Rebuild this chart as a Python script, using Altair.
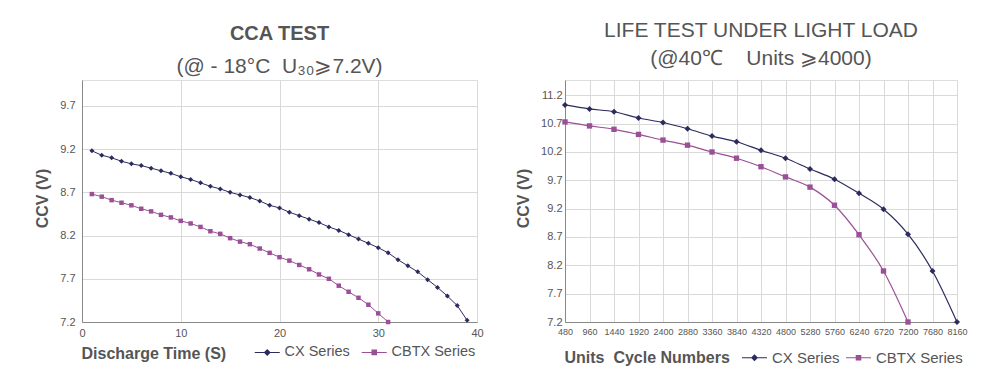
import altair as alt
import pandas as pd

# ---------------- data ----------------
series_names = ["CX Series", "CBTX Series"]
series_colors = ["#2b2b5e", "#9a4f96"]

cca_time_cx = list(range(1, 40))
cca_cx = [9.18, 9.13, 9.10, 9.06, 9.03, 9.01, 8.98, 8.95, 8.92, 8.88,
          8.85, 8.81, 8.77, 8.74, 8.70, 8.67, 8.64, 8.60, 8.55, 8.52,
          8.47, 8.43, 8.39, 8.35, 8.30, 8.26, 8.21, 8.16, 8.11, 8.06,
          8.00, 7.92, 7.85, 7.78, 7.69, 7.60, 7.50, 7.39, 7.22]
cca_time_cbtx = list(range(1, 32))
cca_cbtx = [8.68, 8.65, 8.61, 8.58, 8.55, 8.51, 8.48, 8.44, 8.41, 8.37,
            8.34, 8.30, 8.25, 8.22, 8.17, 8.13, 8.10, 8.05, 8.00, 7.95,
            7.91, 7.86, 7.81, 7.75, 7.70, 7.62, 7.55, 7.48, 7.40, 7.30, 7.20]
cca_y_ticks = [7.2, 7.7, 8.2, 8.7, 9.2, 9.7]
cca_x_ticks = [0, 10, 20, 30, 40]

life_cycles_cx = [480, 960, 1440, 1920, 2400, 2880, 3360, 3840, 4320, 4800,
                  5280, 5760, 6240, 6720, 7200, 7680, 8160]
life_cx = [11.03, 10.96, 10.91, 10.80, 10.72, 10.61, 10.48, 10.38, 10.23, 10.09,
           9.90, 9.72, 9.47, 9.19, 8.75, 8.10, 7.20]
life_cycles_cbtx = [480, 960, 1440, 1920, 2400, 2880, 3360, 3840, 4320, 4800,
                    5280, 5760, 6240, 6720, 7200]
life_cbtx = [10.73, 10.66, 10.60, 10.51, 10.41, 10.32, 10.20, 10.09, 9.94, 9.76,
             9.58, 9.26, 8.74, 8.10, 7.20]
life_y_ticks = [7.2, 7.7, 8.2, 8.7, 9.2, 9.7, 10.2, 10.7, 11.2]
life_x_ticks = life_cycles_cx

FONT = "Liberation Sans"
TXT = "#555555"

# legend symbols: a short line with a marker in the middle (custom SVG paths)
LEG_DIAMOND = "M-2.5,-0.1H2.5V0.1H-2.5Z M0,-0.7L0.7,0L0,0.7L-0.7,0Z"
LEG_SQUARE = "M-2.5,-0.1H2.5V0.1H-2.5Z M-0.56,-0.56H0.56V0.56H-0.56Z"


def panel(x_cx, y_cx, x_cbtx, y_cbtx, x_title, x_dom, x_ticks, x_fmt, y_dom, y_ticks,
          width, height, title, interp, x_lab_size, y_lab_size, y_lab_pad,
          ytitle_x, xtitle_y, leg_x, leg_y, leg_size, leg_colpad, msize, lwidth):
    df_cx = pd.DataFrame({"x": x_cx, "y": y_cx})
    df_cb = pd.DataFrame({"x": x_cbtx, "y": y_cbtx})
    x_enc = alt.X("x:Q", scale=alt.Scale(domain=x_dom, nice=False, zero=False),
                  axis=alt.Axis(values=x_ticks, format=x_fmt, title=x_title,
                                labelFontSize=x_lab_size,
                                labelColor=TXT, labelFont=FONT, labelFlush=False,
                                labelOverlap=False, ticks=False, labelPadding=5,
                                domainColor="#888888", gridColor="#d9d9d9",
                                titleFont=FONT, titleFontSize=16, titleFontWeight="bold",
                                titleColor=TXT, titleAnchor="start", titleAlign="left",
                                titleBaseline="middle", titleX=-1, titleY=xtitle_y))
    y_enc = alt.Y("y:Q", scale=alt.Scale(domain=y_dom, nice=False, zero=False),
                  axis=alt.Axis(values=y_ticks, format=".1f", title="CCV (V)",
                                labelFontSize=y_lab_size, labelColor=TXT, labelFont=FONT,
                                ticks=False, labelPadding=y_lab_pad,
                                domainColor="#888888", gridColor="#d9d9d9",
                                titleFont=FONT, titleFontSize=16, titleFontWeight="bold",
                                titleColor=TXT, titleAngle=-90, titleAlign="center",
                                titleBaseline="middle", titleX=ytitle_x,
                                titleY=height / 2 - 3))
    layers = []
    for df, col, shp, sz in [(df_cx, series_colors[0], "diamond", msize),
                             (df_cb, series_colors[1], "square", msize * 0.8)]:
        base = alt.Chart(df)
        layers.append(base.mark_line(color=col, strokeWidth=lwidth,
                                     interpolate=interp).encode(x=x_enc, y=y_enc))
        layers.append(base.mark_point(color=col, shape=shp, filled=True, size=sz,
                                      opacity=1).encode(x=x_enc, y=y_enc))
    leg_df = pd.DataFrame({"series": series_names, "x": [x_dom[0]] * 2, "y": [y_dom[0]] * 2})
    leg = alt.Legend(title=None, orient="none", legendX=leg_x, legendY=leg_y,
                     direction="horizontal", labelFont=FONT, labelFontSize=leg_size,
                     labelColor=TXT, symbolSize=100, symbolStrokeWidth=0,
                     labelOffset=10, columnPadding=leg_colpad, padding=0)
    layers.append(
        alt.Chart(leg_df).transform_filter("false").mark_point(filled=True, size=100, opacity=1)
        .encode(x=x_enc, y=y_enc,
                color=alt.Color("series:N", scale=alt.Scale(domain=series_names, range=series_colors), legend=leg),
                shape=alt.Shape("series:N", scale=alt.Scale(domain=series_names, range=[LEG_DIAMOND, LEG_SQUARE]), legend=leg))
    )
    return alt.layer(*layers).properties(width=width, height=height, title=title)


cca_title = alt.TitleParams(text="CCA TEST", subtitle="(@ - 18°C\u00a0\u00a0U₃₀⩾7.2V)",
                            font=FONT, fontSize=20, fontWeight="bold", color=TXT,
                            subtitleFont=FONT, subtitleFontSize=21, subtitleColor=TXT,
                            subtitlePadding=12, anchor="middle", offset=3)
life_title = alt.TitleParams(text="LIFE TEST UNDER LIGHT LOAD",
                             subtitle="(@40℃\u00a0\u00a0\u00a0 Units ⩾4000)",
                             font=FONT, fontSize=21, fontWeight="normal", color=TXT,
                             subtitleFont=FONT, subtitleFontSize=21, subtitleColor=TXT,
                             subtitlePadding=7, anchor="middle", offset=11)

left = panel(cca_time_cx, cca_cx, cca_time_cbtx, cca_cbtx, "Discharge Time (S)",
             [0, 40], cca_x_ticks, "d", [7.2, 10.0], cca_y_ticks, 395, 242, cca_title,
             "linear", 11, 11, 7, -40, 31, 178, 265, 14.5, 11, 25, 1)
right = panel(life_cycles_cx, life_cx, life_cycles_cbtx, life_cbtx,
              "Units\u00a0 Cycle Numbers", [480, 8160], life_x_ticks, "d", [7.2, 11.47],
              life_y_ticks, 392, 242, life_title, "monotone", 9, 11, 3, -42, 35,
              182, 270, 15, 6, 36, 1.2)

chart = alt.hconcat(left, right, spacing=30).resolve_scale(
    color="independent", shape="independent"
).resolve_legend(color="independent", shape="independent").properties(
    padding={"left": 25, "top": 11, "right": 5, "bottom": 5}
).configure_view(stroke="#c8c8c8", strokeWidth=1).configure(background="white")

chart.save("out.html", embed_options={"renderer": "svg", "actions": False})
